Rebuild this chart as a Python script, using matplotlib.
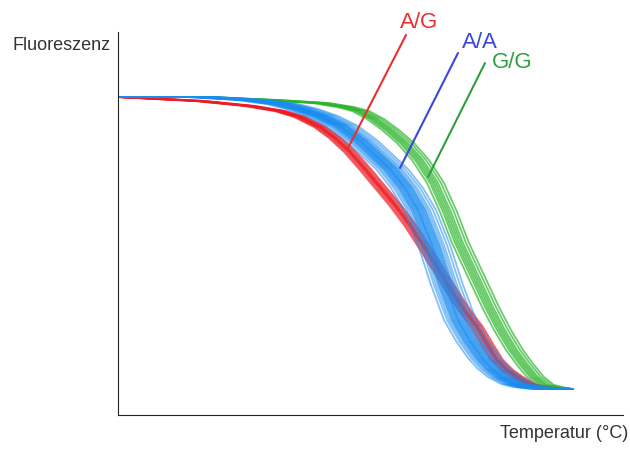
import matplotlib.pyplot as plt

plt.rcParams['font.family'] = ['Liberation Sans', 'DejaVu Sans']

# melting curves (arbitrary units, no ticks shown)
red_temp = [0, 42, 82, 132, 162, 182, 202, 217, 232, 247, 262, 277, 292, 307, 322, 335,
            347, 359, 369, 379, 389, 399, 409, 419, 435, 455]
red_fluor = [318, 316, 314, 309, 304, 298, 288, 277, 263, 246, 228, 210, 190, 167, 143, 122,
             104, 88, 71, 55, 45, 38, 32, 28, 26, 26]

blue_temp = [0, 82, 132, 162, 182, 202, 222, 242, 257, 272, 287, 300, 314, 327, 340, 352,
             364, 374, 384, 397, 409, 427, 455]
blue_fluor = [318, 318, 315, 311, 306, 299, 289, 274, 260, 246, 227, 205, 170, 130, 95, 74,
              57, 46, 38, 31, 28, 26, 26]

green_temp = [0, 82, 152, 202, 227, 242, 257, 272, 287, 302, 317, 330, 342, 357, 372, 384,
              396, 407, 417, 427, 440, 455]
green_fluor = [318, 318, 315, 312, 308, 304, 296, 285, 272, 255, 232, 203, 172, 140, 108, 85,
               65, 50, 38, 30, 27, 26]

# per-replicate temperature shifts
red_shifts = [-6, -4, -2, -1, 0, 1, 2, 4, 6]
blue_shifts = [-14, -11, -9, -7, -6, -5, -4, -3, -2, -1, 0, 0, 1, 2, 3, 4, 5, 6, 7, 8, 10, 12, 15, 18]
green_shifts = [-8, -5, -3, -1, 1, 3, 6, 9]

fig = plt.figure(figsize=(6.3, 4.5), dpi=100)
ax = fig.add_axes([118 / 630, 35 / 450, 505 / 630, 383 / 450])
ax.set_xlim(0, 505)
ax.set_ylim(0, 383)


def draw_group(temp, fluor, shifts, color, alpha):
    for s in shifts:
        t = [temp[0]] + [v + s for v in temp[1:-1]] + [temp[-1]]
        ax.plot(t, fluor, color=color, lw=1.3, alpha=alpha,
                solid_capstyle='round', solid_joinstyle='round')


draw_group(green_temp, green_fluor, green_shifts, '#2bb52b', 0.7)
draw_group(red_temp, red_fluor, red_shifts, '#ec1c24', 0.7)
draw_group(blue_temp, blue_fluor, blue_shifts, '#1a8cf0', 0.55)

for side in ['top', 'right']:
    ax.spines[side].set_visible(False)
ax.spines['left'].set_color('#222222')
ax.spines['bottom'].set_color('#222222')
ax.set_xticks([])
ax.set_yticks([])

labels = ['A/G', 'A/A', 'G/G']
label_colors = ['#e8302e', '#3a46e0', '#2ea040']
label_pos = [(301, 393), (362, 373), (394, 352)]
line_start = [(288, 380), (340, 362), (367, 352)]
line_end = [(230, 267), (282, 247), (310, 238)]

for lab, col, pos, p0, p1 in zip(labels, label_colors, label_pos, line_start, line_end):
    ax.text(pos[0], pos[1], lab, color=col, fontsize=16, ha='center', va='center', clip_on=False)
    ax.annotate('', xy=p1, xytext=p0, annotation_clip=False,
                arrowprops=dict(arrowstyle='-', color=col, lw=1.5, shrinkA=0, shrinkB=0))

fig.text(62 / 630, 1 - 45 / 450, 'Fluoreszenz', fontsize=13, ha='center', va='center', color='#333333')
fig.text(564 / 630, 1 - 434 / 450, 'Temperatur (°C)', fontsize=13, ha='center', va='center', color='#333333')

fig.savefig('out.png', dpi=100)
